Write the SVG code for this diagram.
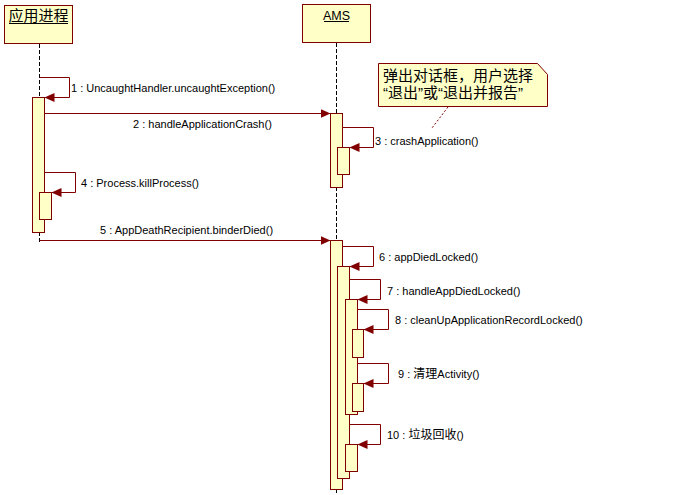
<svg xmlns="http://www.w3.org/2000/svg" width="694" height="495" viewBox="0 0 694 495">
<defs>
<style>
.box{fill:#ffffc8;stroke:#800000;stroke-width:1}
.bar{fill:#ffffc8;stroke:#800000;stroke-width:1}
.life{stroke:#000;stroke-width:1;stroke-dasharray:4 2;fill:none}
.msg{stroke:#800000;stroke-width:1;fill:none}
.lbl{font-family:"Liberation Sans","Noto Sans CJK SC",sans-serif;font-size:11px;fill:#000}
.cjk{font-size:12px}
.title{font-family:"Liberation Sans","Noto Sans CJK SC",sans-serif;fill:#000}
.ul{stroke:#000;stroke-width:1}
.note{font-family:"Liberation Sans","Noto Sans CJK SC",sans-serif;font-size:15px;fill:#000}
</style>
<marker id="arr" markerUnits="userSpaceOnUse" markerWidth="10" markerHeight="9" refX="10" refY="4.5" orient="auto">
<path d="M0,0 L10,4.5 L0,9 z" fill="#800000"/>
</marker>
</defs>
<rect width="694" height="495" fill="#fff"/>

<g id="app">
<rect class="box" x="4.5" y="5.5" width="68" height="38"/>
<text class="title" x="38.5" y="21" font-size="15" text-anchor="middle">应用进程</text>
<line class="ul" x1="9" y1="23.5" x2="68" y2="23.5"/>
<line class="life" x1="39.5" y1="44" x2="39.5" y2="97"/>
<line class="life" x1="39.5" y1="232" x2="39.5" y2="244"/>
<rect class="bar" x="32.5" y="97.5" width="12" height="135"/>
<rect class="bar" x="39.5" y="192.5" width="12" height="27"/>
</g>

<g id="ams">
<rect class="box" x="302.5" y="4.5" width="68" height="38"/>
<text class="title" x="336.5" y="20" font-size="12.5" text-anchor="middle">AMS</text>
<line class="ul" x1="324" y1="21.5" x2="349" y2="21.5"/>
<line class="life" x1="336.5" y1="43" x2="336.5" y2="113"/>
<line class="life" x1="336.5" y1="187" x2="336.5" y2="240"/>
<line class="life" x1="336.5" y1="489" x2="336.5" y2="495"/>
<rect class="bar" x="330.5" y="113.5" width="12" height="74"/>
<rect class="bar" x="337.5" y="147.5" width="12" height="27"/>
<rect class="bar" x="330.5" y="240.5" width="12" height="249"/>
<rect class="bar" x="337.5" y="266.5" width="12" height="212"/>
<rect class="bar" x="345.5" y="299.5" width="12" height="115"/>
<rect class="bar" x="352.5" y="329.5" width="11" height="28"/>
<rect class="bar" x="352.5" y="383.5" width="11" height="28"/>
<rect class="bar" x="345.5" y="444.5" width="12" height="27"/>
</g>

<g id="note">
<polygon class="box" points="378.5,63.5 537.5,63.5 547.5,74.5 547.5,106.5 378.5,106.5"/>
<text class="note" x="383" y="81">弹出对话框，用户选择</text>
<text class="note" x="383" y="98">“退出”或“退出并报告”</text>
</g>

<g id="connectors">
<line x1="448" y1="107" x2="432" y2="128" stroke="#800000" stroke-width="1" stroke-dasharray="2 2"/>
<path class="msg" d="M39.5,77.5 H69.5 V97.5 H44.5" marker-end="url(#arr)"/>
<path class="msg" d="M44.5,113.5 H330.5" marker-end="url(#arr)"/>
<path class="msg" d="M342.5,127.5 H373.5 V147.5 H349.5" marker-end="url(#arr)"/>
<path class="msg" d="M44.5,172.5 H75.5 V192.5 H51.5" marker-end="url(#arr)"/>
<path class="msg" d="M39.5,240.5 H330.5" marker-end="url(#arr)"/>
<path class="msg" d="M342.5,246.5 H373.5 V266.5 H349.5" marker-end="url(#arr)"/>
<path class="msg" d="M349.5,279.5 H380.5 V299.5 H357.5" marker-end="url(#arr)"/>
<path class="msg" d="M357.5,309.5 H388.5 V329.5 H363.5" marker-end="url(#arr)"/>
<path class="msg" d="M357.5,363.5 H388.5 V383.5 H363.5" marker-end="url(#arr)"/>
<path class="msg" d="M349.5,424.5 H380.5 V444.5 H357.5" marker-end="url(#arr)"/>
<text class="lbl" x="71" y="92">1 : UncaughtHandler.uncaughtException()</text>
<text class="lbl" x="133" y="128">2 : handleApplicationCrash()</text>
<text class="lbl" x="375" y="145">3 : crashApplication()</text>
<text class="lbl" x="81" y="187">4 : Process.killProcess()</text>
<text class="lbl" x="100" y="234">5 : AppDeathRecipient.binderDied()</text>
<text class="lbl" x="379" y="261">6 : appDiedLocked()</text>
<text class="lbl" x="387" y="295">7 : handleAppDiedLocked()</text>
<text class="lbl" x="395" y="324">8 : cleanUpApplicationRecordLocked()</text>
<text class="lbl" x="398" y="378">9 : <tspan class="cjk">清理</tspan>Activity()</text>
<text class="lbl" x="387" y="439">10 : <tspan class="cjk">垃圾回收</tspan>()</text>
</g>
</svg>
